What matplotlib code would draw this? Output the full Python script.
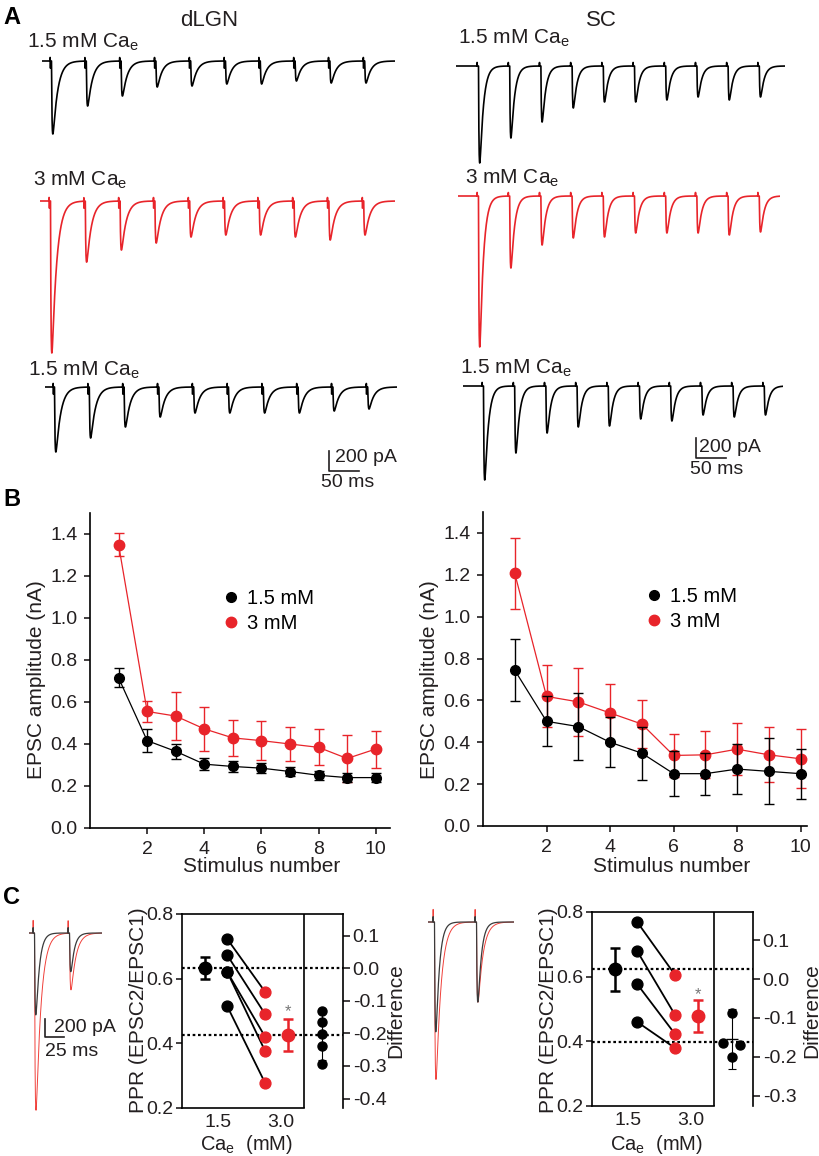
import numpy as np
import matplotlib
matplotlib.use("Agg")
import matplotlib.pyplot as plt
from matplotlib.lines import Line2D

plt.rcParams['font.family'] = ['Liberation Sans', 'DejaVu Sans']
plt.rcParams['mathtext.default'] = 'regular'
plt.rcParams['axes.unicode_minus'] = False

RED = '#e8242a'
TXT = '#231f20'

# ---------------- data ----------------
# A: EPSC peak amplitudes (pA) of the example trains, 10 stimuli each
dlgn_15a_amp = [730, 450, 350, 260, 250, 230, 230, 200, 220, 220]
dlgn_3_amp = [1520, 610, 490, 420, 360, 340, 340, 360, 390, 340]
dlgn_15b_amp = [650, 510, 400, 300, 260, 260, 260, 260, 240, 220]
sc_15a_amp = [970, 720, 560, 420, 360, 360, 340, 310, 340, 310]
sc_3_amp = [1510, 720, 490, 420, 410, 370, 370, 370, 390, 360]
sc_15b_amp = [940, 670, 470, 410, 400, 330, 350, 290, 310, 290]
dlgn_isi = 58   # ms between stimuli as drawn
sc_isi = 52

# B: mean EPSC amplitude (nA) vs stimulus number
stim = [1, 2, 3, 4, 5, 6, 7, 8, 9, 10]
dlgn_15 = [0.715, 0.416, 0.365, 0.304, 0.293, 0.285, 0.269, 0.251, 0.240, 0.240]
dlgn_15_err = [0.045, 0.056, 0.035, 0.030, 0.025, 0.025, 0.022, 0.022, 0.022, 0.020]
dlgn_3 = [1.349, 0.555, 0.533, 0.472, 0.429, 0.416, 0.400, 0.384, 0.331, 0.376]
dlgn_3_err = [0.055, 0.050, 0.115, 0.104, 0.086, 0.093, 0.083, 0.086, 0.110, 0.088]
sc_15 = [0.744, 0.500, 0.475, 0.400, 0.348, 0.250, 0.250, 0.272, 0.261, 0.250]
sc_15_err = [0.147, 0.119, 0.158, 0.120, 0.127, 0.108, 0.100, 0.120, 0.158, 0.120]
sc_3 = [1.207, 0.619, 0.593, 0.540, 0.487, 0.337, 0.340, 0.367, 0.340, 0.321]
sc_3_err = [0.170, 0.148, 0.163, 0.137, 0.116, 0.103, 0.112, 0.125, 0.131, 0.141]

# C: paired-pulse ratio per cell, group means, differences
c_dlgn_pre = [0.723, 0.673, 0.621, 0.621, 0.515]
c_dlgn_post = [0.559, 0.490, 0.420, 0.376, 0.277]
c_dlgn_mean = [0.633, 0.426]
c_dlgn_err = [0.035, 0.050]
c_dlgn_ref = [0.633, 0.426]          # dotted reference lines (PPR units)
c_dlgn_diff = [-0.132, -0.166, -0.202, -0.239, -0.294]
c_dlgn_diff_mean, c_dlgn_diff_err = -0.205, 0.077

c_sc_pre = [0.769, 0.679, 0.577, 0.460]
c_sc_post = [0.605, 0.481, 0.422, 0.379]
c_sc_mean = [0.623, 0.478]
c_sc_err = [0.067, 0.050]
c_sc_ref = [0.623, 0.398]
c_sc_diff = [-0.088, -0.165, -0.170, -0.201]
c_sc_diff_x = [3.5, 3.26, 3.72, 3.5]
c_sc_diff_mean, c_sc_diff_lo, c_sc_diff_hi = -0.155, -0.232, -0.077

# C example paired-pulse traces (pA)
c_dlgn_trace_black = [910, 430]
c_dlgn_trace_red = [1970, 630]
c_sc_trace_black = [1220, 890]
c_sc_trace_red = [1750, 890]

# ---------------- figure ----------------
W, H = 820, 1156
fig = plt.figure(figsize=(W / 100, H / 100), dpi=100)


def px_axes(l, t, r, b):
    return fig.add_axes([l / W, 1 - b / H, (r - l) / W, (b - t) / H])


def ftext(x, y, s, **kw):
    kw.setdefault('color', TXT)
    kw.setdefault('va', 'center')
    return fig.text(x / W, 1 - y / H, s, **kw)


def epsc_train(t, stim_times, amps, tau_r, tau_d, lat, art_up, art_dn):
    y = np.zeros_like(t)
    tpk = tau_r * tau_d / (tau_d - tau_r) * np.log(tau_d / tau_r)
    norm = 1.0 / (np.exp(-tpk / tau_d) - np.exp(-tpk / tau_r))
    for ts, a in zip(stim_times, amps):
        s = np.clip(t - ts - lat, 0, None)
        k = np.where(t - ts - lat > 0, np.exp(-s / tau_d) - np.exp(-s / tau_r), 0)
        y -= a * norm * k
        y += art_up * ((t >= ts) & (t < ts + 0.3))
        y -= art_dn * ((t >= ts + 0.3) & (t < ts + 1.2))
    return y


def trace_ax(x0, x1, base, ms_px, pa_px, depth=200, up=12):
    ax = px_axes(x0, base - up, x1, base + depth)
    ax.set_xlim(0, (x1 - x0) * ms_px)
    ax.set_ylim(-depth * pa_px, up * pa_px)
    ax.axis('off')
    ax.patch.set_alpha(0)
    return ax


MS_PX, PA_PX = 50 / 30, 10.0
traces = [
    # x0, x1, baseline, first stim px, isi, amps, color, tau_d, notch
    (42, 395, 61, 50, dlgn_isi, dlgn_15a_amp, 'k', 8.0, 70),
    (40, 395, 201, 49, dlgn_isi, dlgn_3_amp, RED, 8.0, 70),
    (45, 397, 387, 53, dlgn_isi, dlgn_15b_amp, 'k', 8.0, 70),
    (456, 785, 66, 477, sc_isi, sc_15a_amp, 'k', 6.0, 0),
    (458, 780, 196, 477, sc_isi, sc_3_amp, RED, 6.0, 0),
    (463, 783, 386, 482, sc_isi, sc_15b_amp, 'k', 6.0, 0),
]
tr_axes = []
for x0, x1, base, s0, isi, amps, col, td, notch in traces:
    ax = trace_ax(x0, x1, base, MS_PX, PA_PX)
    t = np.arange(0, (x1 - x0) * MS_PX, 0.1)
    st = [(s0 - x0) * MS_PX + i * isi for i in range(len(amps))]
    y = epsc_train(t, st, amps, 0.9, td, 2.5, 35, notch)
    ax.plot(t, y, color=col, lw=1.2)
    tr_axes.append(ax)

# scale bars panel A
for ax, (bt, by, tx, ty, mx, my) in [(tr_axes[2], (473, -840, 484, -710, 505, -955)),
                                     (tr_axes[5], (388, -720, 393, -610, 422, -840))]:
    ax.plot([bt, bt, bt + 50], [by + 200, by, by], color=TXT, lw=1.2, clip_on=False)
    ax.text(tx, ty, '200 pA', fontsize=14, color=TXT, va='center', ha='left')
    ax.text(mx, my, '50 ms', fontsize=14, color=TXT, va='center', ha='center')

ftext(3, 17, 'A', fontsize=17, fontweight='bold', color='k')
ftext(209, 20, 'dLGN', fontsize=16, ha='center')
ftext(601, 20, 'SC', fontsize=16, ha='center')
for x, y, s in [(27, 42, '1.5 mM Ca$_e$'), (33, 180, '3 mM Ca$_e$'), (28, 370, '1.5 mM Ca$_e$'),
                (458, 38, '1.5 mM Ca$_e$'), (465, 178, '3 mM Ca$_e$'), (460, 368, '1.5 mM Ca$_e$')]:
    ftext(x, y, s, fontsize=15)

# ---------------- panel B ----------------
def panel_b(box, xmax, black, berr, red, rerr, leg_x, ylab_x, xlab_x):
    ax = px_axes(*box)
    ax.errorbar(stim, black, yerr=berr, color='k', marker='o', ms=7, lw=0.9,
                elinewidth=1.0, capsize=3.5, capthick=1.0, zorder=3)
    ax.errorbar(stim, red, yerr=rerr, color=RED, marker='o', ms=7.5, lw=0.9,
                elinewidth=1.0, capsize=3.5, capthick=1.0, zorder=2)
    ax.set_xlim(0, xmax)
    ax.set_ylim(0, 1.5)
    ax.set_xticks([2, 4, 6, 8, 10])
    ax.set_yticks(np.arange(0, 1.41, 0.2))
    ax.set_yticklabels([f'{v:.1f}' for v in np.arange(0, 1.41, 0.2)])
    for s in ['top', 'right']:
        ax.spines[s].set_visible(False)
    for s in ['left', 'bottom']:
        ax.spines[s].set_linewidth(1.2)
    ax.tick_params(labelsize=14, length=4, width=1.2, pad=5, colors=TXT)
    handles = [Line2D([], [], color='k', marker='o', ls='', ms=7),
               Line2D([], [], color=RED, marker='o', ls='', ms=7.5)]
    ax.legend(handles, ['1.5 mM', '3 mM'], loc='upper left', bbox_to_anchor=(leg_x, 0.76),
              frameon=False, fontsize=14.5, handlelength=0.6, handletextpad=0.5,
              labelspacing=0.3, borderpad=0, borderaxespad=0)
    ftext(ylab_x, 680, 'EPSC amplitude (nA)', fontsize=15, rotation=90, ha='center')
    ftext(xlab_x, 866, 'Stimulus number', fontsize=15, ha='center')
    return ax


panel_b((90, 513, 390, 828), 10.5, dlgn_15, dlgn_15_err, dlgn_3, dlgn_3_err, 0.45, 37, 262)
panel_b((483, 512, 807, 826), 10.2, sc_15, sc_15_err, sc_3, sc_3_err, 0.51, 430, 672)
ftext(3, 499, 'B', fontsize=17, fontweight='bold', color='k')

# ---------------- panel C ----------------
def panel_c(box, pre, post, means, errs, refs, diff_x, diffs, dmean, dlo, dhi, rlim, rticks,
            star_y, ylab_x, rlab_x, cae_x):
    ax = px_axes(*box)
    ax.set_xlim(-0.19, 4.05)
    ax.set_ylim(0.2, 0.8)
    for p, q in zip(pre, post):
        ax.plot([1, 2], [p, q], color='k', lw=1.3, zorder=2)
    ax.plot([1] * len(pre), pre, 'o', color='k', ms=7.8, zorder=3)
    ax.plot([2] * len(post), post, 'o', color=RED, ms=7.8, zorder=3)
    ax.errorbar([0.42], [means[0]], yerr=[errs[0]], fmt='o', color='k', ms=9,
                elinewidth=1.8, capsize=3.5, capthick=1.8, zorder=3)
    ax.errorbar([2.6], [means[1]], yerr=[errs[1]], fmt='o', color=RED, ms=9,
                elinewidth=1.8, capsize=3.5, capthick=1.8, zorder=3)
    ax.text(2.6, star_y, '*', color='#777777', fontsize=12, ha='center', va='center')
    for m in refs:
        ax.axhline(m, color='k', ls=(0, (1.2, 1.2)), lw=1.6, zorder=1, clip_on=False)
    ax.axvline(3.03, color='k', lw=1.2)
    ax.set_xticks([0.75, 2.4])
    ax.set_xticklabels(['1.5', '3.0'])
    ax.set_yticks([0.2, 0.4, 0.6, 0.8])
    ax.set_yticklabels(['0.2', '0.4', '0.6', '0.8'])
    ax.tick_params(axis='x', length=0, pad=4, labelsize=14, colors=TXT)
    ax.tick_params(axis='y', length=4, width=1.2, pad=2, labelsize=14, colors=TXT)
    ax.spines['right'].set_visible(False)
    ax.spines['bottom'].set_bounds(-0.19, 3.03)
    for s in ['left', 'top', 'bottom']:
        ax.spines[s].set_linewidth(1.2)

    rx = ax.twinx()
    rx.set_ylim(*rlim)
    rx.set_yticks(rticks)
    rx.set_yticklabels([f'{v:.1f}' for v in rticks])
    rx.tick_params(length=5, width=1.2, pad=2, labelsize=14, colors=TXT)
    for s in ['left', 'top', 'bottom']:
        rx.spines[s].set_visible(False)
    rx.spines['right'].set_linewidth(1.2)
    rx.plot(diff_x, diffs, 'o', color='k', ms=6.5, zorder=3)
    rx.errorbar([3.5], [dmean], yerr=[[dmean - dlo], [dhi - dmean]], fmt='_', color='k', ms=8,
                elinewidth=0.8, capsize=3, capthick=0.8, zorder=2)

    ftext(ylab_x, 1010, 'PPR (EPSC2/EPSC1)', fontsize=15, rotation=90, ha='center')
    ftext(rlab_x, 1011, 'Difference', fontsize=15, rotation=90, ha='center')
    ftext(cae_x, 1144, 'Ca$_e$  (mM)', fontsize=14.5, ha='center')
    return ax


panel_c((182, 914, 343, 1108), c_dlgn_pre, c_dlgn_post, c_dlgn_mean, c_dlgn_err, c_dlgn_ref,
        [3.5] * 5, c_dlgn_diff, c_dlgn_diff_mean, c_dlgn_diff_mean - c_dlgn_diff_err,
        c_dlgn_diff_mean + c_dlgn_diff_err, (-0.429, 0.166), [0.1, 0.0, -0.1, -0.2, -0.3, -0.4],
        0.497, 138, 396, 247)
panel_c((592, 912, 753, 1106), c_sc_pre, c_sc_post, c_sc_mean, c_sc_err, c_sc_ref,
        c_sc_diff_x, c_sc_diff, c_sc_diff_mean, c_sc_diff_lo, c_sc_diff_hi,
        (-0.327, 0.173), [0.1, 0.0, -0.1, -0.2, -0.3], 0.546, 548, 812, 657)
ftext(3, 897, 'C', fontsize=17, fontweight='bold', color='k')

# C example traces
C_MS, C_PA = 25 / 19, 200 / 18
for x0, x1, base, s0, s1, blk, red, sb in [(29, 102, 933, 33, 68, c_dlgn_trace_black, c_dlgn_trace_red, True),
                                          (428, 514, 922, 433, 475, c_sc_trace_black, c_sc_trace_red, False)]:
    ax = trace_ax(x0, x1, base, C_MS, C_PA, depth=200, up=20)
    t = np.arange(0, (x1 - x0) * C_MS, 0.05)
    st = [(s0 - x0) * C_MS, (s1 - x0) * C_MS]
    yr = epsc_train(t, st, red, 0.8, 6.5, 2.0, 140, 0)
    yb = epsc_train(t, st, blk, 0.8, 4.5, 2.0, 60, 0)
    ax.plot(t, yr, color='#f0403a', lw=0.7)
    ax.plot(t, yb, color='#3a3a3a', lw=0.9)
    if sb:
        bt, by = (45 - x0) * C_MS, -(1037 - base) * C_PA
        ax.plot([bt, bt, bt + 25], [by + 200, by, by], color=TXT, lw=1.2, clip_on=False)
        ax.text((54 - x0) * C_MS, -(1027 - base) * C_PA, '200 pA', fontsize=14, color=TXT, va='center')
        ax.text((45 - x0) * C_MS, -(1052 - base) * C_PA, '25 ms', fontsize=14, color=TXT, va='center')

fig.savefig('out.png', dpi=100)
